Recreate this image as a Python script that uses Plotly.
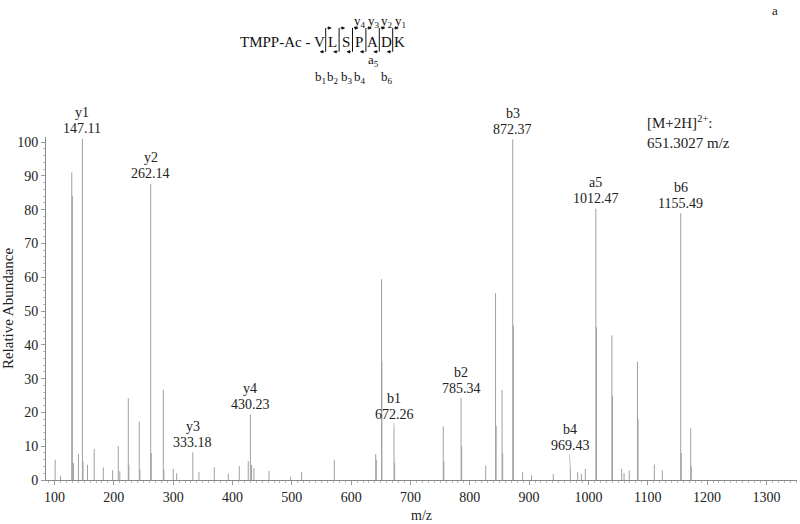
import plotly.graph_objects as go

# centroid peaks (m/z, relative abundance)
mz = [101.1, 110.1, 129.1, 130.1, 132.1, 140.4, 147.11, 148.1, 155.6, 167.0,
      182.3, 198.0, 207.5, 210.1, 224.4, 225.4, 242.9, 244.0, 262.14, 263.1,
      283.4, 284.4, 300.2, 306.0, 333.18, 343.5, 369.3, 393.0, 411.5, 426.6,
      430.23, 432.2, 436.2, 461.5, 498.0, 516.6, 571.6, 641.4, 642.4, 651.30,
      651.8, 672.26, 673.3, 755.3, 756.3, 785.34, 786.3, 826.8, 843.4, 844.4,
      854.4, 855.4, 872.37, 873.4, 889.0, 904.0, 940.7, 969.43, 981.8, 988.0,
      994.7, 1012.47, 1013.5, 1039.5, 1040.5, 1056.0, 1060.0, 1068.8, 1082.6, 1083.6,
      1111.0, 1124.5, 1155.49, 1156.5, 1172.3, 1173.3]
abundance = [6.0, 1.2, 91.0, 84.0, 5.0, 7.7, 101.0, 5.5, 4.5, 9.2,
             3.7, 2.9, 10.1, 2.6, 24.2, 4.5, 17.3, 3.0, 87.6, 8.0,
             26.7, 3.0, 3.3, 2.0, 8.2, 2.3, 3.8, 1.9, 4.1, 5.6,
             19.4, 4.5, 3.5, 2.7, 1.0, 2.3, 6.0, 7.7, 6.0, 59.4,
             35.0, 15.2, 5.0, 15.8, 5.5, 24.2, 10.0, 4.3, 55.3, 16.0,
             26.7, 8.0, 100.8, 45.7, 2.3, 1.4, 1.8, 3.9, 2.3, 1.8,
             3.3, 80.3, 45.2, 42.8, 25.0, 3.3, 2.0, 2.8, 35.0, 18.0,
             4.6, 2.8, 78.9, 8.0, 15.3, 4.0]

# annotated fragment ions
ion_names = ["y1", "y2", "y3", "y4", "b1", "b2", "b3", "b4", "a5", "b6"]
ion_mz = [147.11, 262.14, 333.18, 430.23, 672.26, 785.34, 872.37, 969.43, 1012.47, 1155.49]
ion_abund = [101.0, 87.6, 8.2, 19.4, 15.2, 24.2, 100.8, 3.9, 80.3, 78.9]

sequence = ["V", "L", "S", "P", "A", "D", "K"]
y_labels = ["y<sub>4</sub>", "y<sub>3</sub>", "y<sub>2</sub>", "y<sub>1</sub>"]
b_labels = ["b<sub>1</sub>", "b<sub>2</sub>", "b<sub>3</sub>", "b<sub>4</sub>", "", "b<sub>6</sub>"]

SERIF = "Liberation Serif"
W, H = 800, 524
L, R, T, B = 46, 3, 137, 41

def px(x):  # pixel -> paper x
    return (x - L) / (W - L - R)

def py(y):  # pixel -> paper y
    return (H - B - y) / (H - T - B)

# stick spectrum
xs, ys = [], []
for m, a in zip(mz, abundance):
    xs += [m, m, None]
    ys += [0, a, None]

fig = go.Figure()
fig.add_trace(go.Scatter(x=xs, y=ys, mode="lines",
                         line=dict(color="#a0a0a0", width=1),
                         hoverinfo="skip", showlegend=False, cliponaxis=False))

lab_font = dict(family=SERIF, size=14, color="#222")
annotations = []
for name, m, a in zip(ion_names, ion_mz, ion_abund):
    gap = {"b1": 14, "b4": 21}.get(name, 10)
    annotations.append(dict(x=m, y=a, xref="x", yref="y", yshift=gap, yanchor="middle",
                            text=f"{m:.2f}", showarrow=False, font=lab_font))
    annotations.append(dict(x=m, y=a, xref="x", yref="y", yshift=gap + 16, yanchor="middle",
                            text=name, showarrow=False, font=lab_font))
    if name in ("b1", "b4"):
        annotations.append(dict(x=m, y=a, xref="x", yref="y", text="", showarrow=True,
                                arrowhead=0, arrowwidth=0.8, arrowcolor="#b0b0b0",
                                ax=-1 if name == "b4" else 0, ay=-(gap - 7)))

def note(x, y, text, font, **kw):
    d = dict(x=px(x), y=py(y), xref="paper", yref="paper", showarrow=False,
             xanchor="center", yanchor="middle", text=text, font=font)
    d.update(kw)
    annotations.append(d)

note(645, 132, "[M+2H]<sup>2+</sup>:<br>651.3027 m/z",
     dict(family=SERIF, size=15, color="#222"), xanchor="left", align="left")
note(775, 9, "a", dict(family=SERIF, size=13, color="#222"))

# peptide fragmentation scheme
x0, step = 319.0, 13.4
seq_y = 41
seq_font = dict(family=SERIF, size=15, color="#111")
sub_font = dict(family=SERIF, size=13, color="#111")
note(312, seq_y, "TMPP-Ac -", seq_font, xanchor="right")
for i, aa in enumerate(sequence):
    note(x0 + i * step, seq_y, aa, seq_font)
for i, lab in enumerate(y_labels):
    note(x0 + (i + 3) * step + 1, 20, lab, sub_font)
for i, lab in enumerate(b_labels):
    if lab:
        note(x0 + i * step + 1, 77, lab, sub_font)
note(x0 + 4 * step + 1, 60, "a<sub>5</sub>", sub_font)

shapes = []
for i in range(len(sequence) - 1):
    cx = x0 + (i + 0.5) * step
    shapes.append(dict(type="line", xref="paper", yref="paper",
                       x0=px(cx), x1=px(cx), y0=py(27), y1=py(51),
                       line=dict(color="#111", width=1)))
    annotations.append(dict(x=px(cx + 6), y=py(27), xref="paper", yref="paper",
                            ax=-6, ay=0, showarrow=True, arrowhead=2, arrowsize=0.7,
                            arrowwidth=1, arrowcolor="#111", text=""))
    annotations.append(dict(x=px(cx - 6), y=py(51), xref="paper", yref="paper",
                            ax=6, ay=0, showarrow=True, arrowhead=2, arrowsize=0.7,
                            arrowwidth=1, arrowcolor="#111", text=""))

fig.update_layout(
    width=W, height=H,
    margin=dict(l=L, r=R, t=T, b=B),
    plot_bgcolor="white", paper_bgcolor="white",
    font=dict(family=SERIF, size=14, color="#222"),
    annotations=annotations, shapes=shapes,
)
fig.update_xaxes(range=[85.7, 1351.5], tickvals=list(range(100, 1400, 100)),
                 showgrid=False, zeroline=False, showline=True, linecolor="#888", linewidth=1,
                 ticks="outside", ticklen=4, tickcolor="#999",
                 minor=dict(dtick=10, ticks="outside", ticklen=2, tickcolor="#bbb"),
                 tickfont=dict(family=SERIF, size=14),
                 title=dict(text="m/z", font=dict(family=SERIF, size=14), standoff=6))
fig.update_yaxes(range=[0, 101.5], tickvals=list(range(0, 101, 10)),
                 showgrid=False, zeroline=False, showline=True, linecolor="#888", linewidth=1,
                 ticks="outside", ticklen=4, tickcolor="#999",
                 minor=dict(dtick=2, ticks="outside", ticklen=2, tickcolor="#bbb"),
                 tickfont=dict(family=SERIF, size=14),
                 title=dict(text="Relative Abundance", font=dict(family=SERIF, size=15), standoff=4))

fig.write_html("out.html", config={"displayModeBar": False},
               post_script="document.body.style.margin='0';")
